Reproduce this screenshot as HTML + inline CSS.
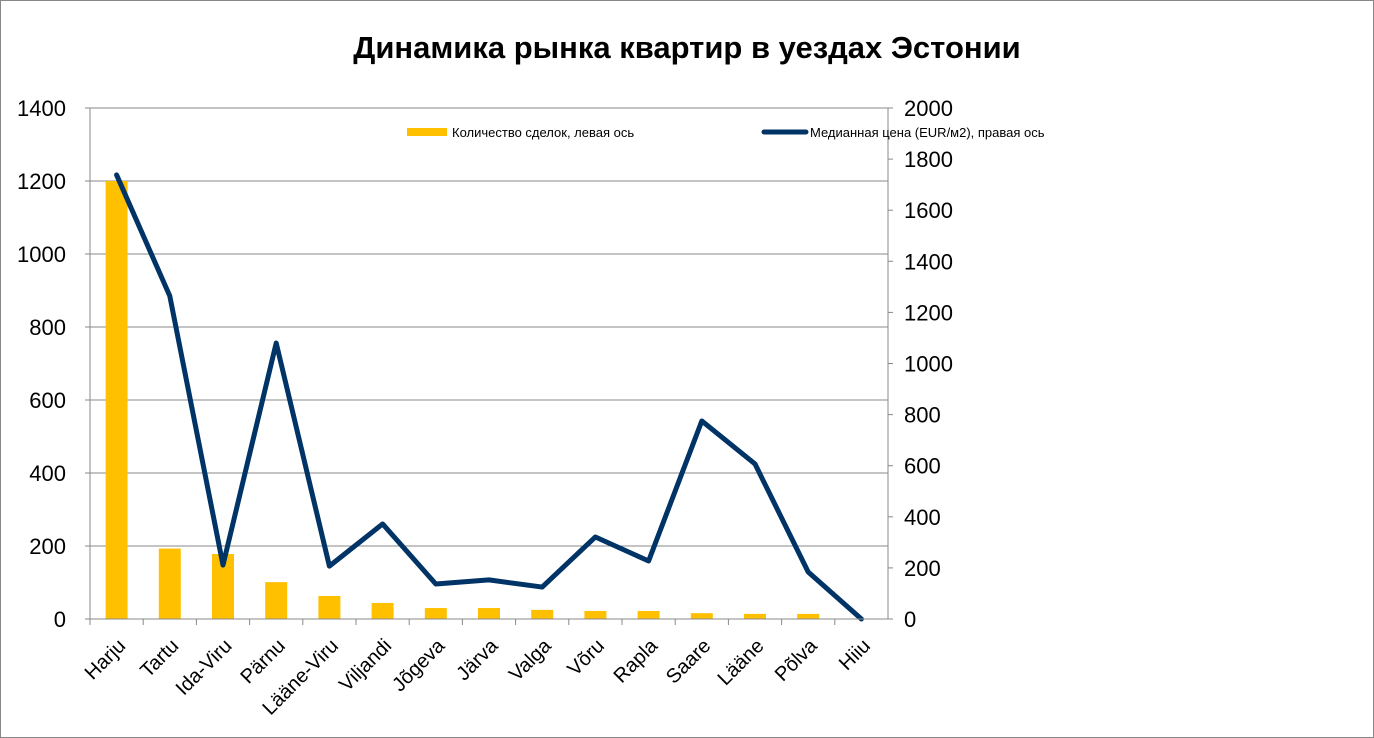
<!DOCTYPE html>
<html><head><meta charset="utf-8"><style>
html,body{margin:0;padding:0;background:#fff}
svg{display:block;font-family:"Liberation Sans","DejaVu Sans",sans-serif}
</style></head><body>
<svg id="chart" width="1374" height="738" xmlns="http://www.w3.org/2000/svg">
<rect x="0.5" y="0.5" width="1373" height="737" fill="#fff" stroke="#888"/>
<text x="687" y="58" text-anchor="middle" font-size="31" font-weight="bold">Динамика рынка квартир в уездах Эстонии</text>
<g id="grid"></g><g id="bars"></g><g id="line"></g><g id="axes"></g>
<g>
<rect x="407" y="128" width="40" height="8" fill="#FFC000"/>
<text x="452" y="137" font-size="13">Количество сделок, левая ось</text>
<line x1="764" y1="132" x2="806" y2="132" stroke="#003366" stroke-width="5" stroke-linecap="round"/>
<text x="810" y="137" font-size="13">Медианная цена (EUR/м2), правая ось</text>
</g>
</svg>
<script>
const categories=["Harju","Tartu","Ida-Viru","Pärnu","Lääne-Viru","Viljandi","Jõgeva","Järva","Valga","Võru","Rapla","Saare","Lääne","Põlva","Hiiu"];
const deals=[1200,193,178,101,63,44,30,30,25,22,22,16,14,14,1];
const prices=[1738,1264,211,1080,207,372,137,153,125,321,227,775,607,184,0];
const leftTicks=[0,200,400,600,800,1000,1200,1400];
const rightTicks=[0,200,400,600,800,1000,1200,1400,1600,1800,2000];
const NS="http://www.w3.org/2000/svg";
const X0=90,X1=888,Y0=619,Y1=108;
const step=(X1-X0)/categories.length;
const xC=i=>X0+step*(i+0.5);
const yL=v=>Y0-(v/1400)*(Y0-Y1);
const yR=v=>Y0-(v/2000)*(Y0-Y1);
function mk(tag,attrs,parent){const e=document.createElementNS(NS,tag);for(const k in attrs)e.setAttribute(k,attrs[k]);parent.appendChild(e);return e;}
const grid=document.getElementById('grid'),bars=document.getElementById('bars'),line=document.getElementById('line'),axes=document.getElementById('axes');
leftTicks.forEach(v=>{
  const y=yL(v);
  if(v>0){const g=mk('line',{x1:X0,x2:X1,y1:y,y2:y,stroke:'#888','stroke-width':1},grid);
  
  }
  const t=mk('text',{x:66,y:y+8,'text-anchor':'end','font-size':22},axes);t.textContent=v;
  
  
  mk('line',{x1:X0-5,x2:X0,y1:y,y2:y,stroke:'#888'},axes);
});
rightTicks.forEach(v=>{
  const y=yR(v);
  const t=mk('text',{x:904,y:y+8,'font-size':22},axes);t.textContent=v;
  
  
  mk('line',{x1:X1,x2:X1+5,y1:y,y2:y,stroke:'#888'},axes);
});
let a=mk('line',{x1:X0,x2:X0,y1:Y1,y2:Y0,stroke:'#888'},axes);


a=mk('line',{x1:X1,x2:X1,y1:Y1,y2:Y0,stroke:'#888'},axes);


a=mk('line',{x1:X0,x2:X1,y1:Y0,y2:Y0,stroke:'#888'},axes);


categories.forEach((c,i)=>{
  const tx=X0+step*i;mk('line',{x1:tx,x2:tx,y1:Y0,y2:Y0+6,stroke:'#888'},axes);
  const cx=xC(i);
  const t=mk('text',{x:cx+10,y:Y0+28,'text-anchor':'end','font-size':20,transform:`rotate(-45 ${cx+10} ${Y0+28})`},axes);
  t.textContent=c;
  
  
  const y=yL(deals[i]);
  const b=mk('rect',{x:cx-11,y:y,width:22,height:Y0-y,fill:'#FFC000'},bars);
  
  
});
const pts=prices.map((v,i)=>xC(i)+','+yR(v)).join(' ');
const pl=mk('polyline',{points:pts,fill:'none',stroke:'#003366','stroke-width':5,'stroke-linejoin':'round','stroke-linecap':'round'},line);


</script>
</body></html>
